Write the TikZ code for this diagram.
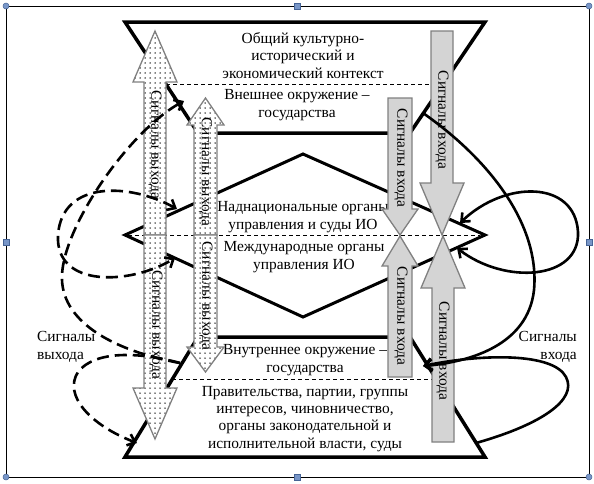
\documentclass[tikz,border=0pt]{standalone}
\usepackage{fontspec}
\setmainfont{Liberation Serif}
\usetikzlibrary{arrows.meta,patterns}
\pgfdeclarepatternformonly{sdots}{\pgfqpoint{-1pt}{-1pt}}{\pgfqpoint{1pt}{1pt}}{\pgfqpoint{5pt}{5pt}}{\pgfpathcircle{\pgfqpoint{0pt}{0pt}}{0.75pt}\pgfusepath{fill}}
\definecolor{hfill}{RGB}{120,150,200}
\definecolor{hdraw}{RGB}{70,100,150}
\tikzset{
  hg/.style={line width=3.5pt, line join=miter},
  sep/.style={line width=0.8pt, dash pattern=on 4pt off 3pt},
  outarrow/.style={draw=black!50, line width=1.3pt, preaction={fill=white}, pattern=sdots},
  inarrow/.style={draw=black!50, line width=1.3pt, fill=black!17},
  lbl/.style={font=\fontsize{15.4}{17.25}\selectfont, align=center, inner sep=0pt},
  vlbl/.style={font=\fontsize{15.4}{17.25}\selectfont, rotate=-90, inner sep=0pt},
  tipb/.tip={Straight Barb[length=7pt,width=12pt]},
  dcurve/.style={line width=2.6pt, dash pattern=on 12pt off 6pt},
  scurve/.style={line width=2.6pt},
  handlec/.style={circle, fill=hfill, draw=hdraw, line width=0.5pt, minimum size=6pt, inner sep=0pt},
  handles/.style={rectangle, fill=hfill, draw=hdraw, line width=0.5pt, minimum size=6pt, inner sep=0pt}
}
\begin{document}
\begin{tikzpicture}[x=1pt,y=-1pt]
\useasboundingbox (0,0) rectangle (594,483);
% frame
\draw[line width=0.9pt] (6,6) rectangle (589,477);
% hourglass
\draw[hg] (198,133) -- (125,22) -- (485,22) -- (410,133) -- cycle;
\draw[line width=3pt, line join=miter] (125,235) -- (303,154) -- (485,235) -- (303,317) -- cycle;
\draw[hg] (198,337) -- (410,337) -- (485,457) -- (125,457) -- cycle;
% separators
\draw[sep] (166,84) -- (443,84);
\draw[sep] (128,235) -- (480,235);
\draw[sep] (172,379) -- (436,379);
% texts (anchor=base is the baseline of the last line)
\node[lbl, anchor=base] (ctx) at (303,78) {Общий культурно-\\исторический и\\экономический контекст};
\node[lbl, anchor=base] (ext) at (297,117) {Внешнее окружение –\\государства};
\node[lbl, anchor=base] (supra) at (303,229) {Наднациональные органы\\управления и суды ИО};
\node[lbl, anchor=base] (intl) at (304,269) {Международные органы\\управления ИО};
\node[lbl, anchor=base] (inner) at (305,372) {Внутреннее окружение –\\государства};
\node[lbl, anchor=base] (gov) at (305,448) {Правительства, партии, группы\\интересов, чиновничество,\\органы законодательной и\\исполнительной власти, суды};
\node[lbl, align=left, anchor=base west] (outl) at (37,359) {Сигналы\\выхода};
\node[lbl, align=right, anchor=base east] (inl) at (577,359) {Сигналы\\входа};
% output arrows
\draw[outarrow] (144,235) -- (144,82) -- (133,82) -- (155,31) -- (177,82) -- (166,82) -- (166,235) -- cycle;
\draw[outarrow] (144,235) -- (144,388) -- (133,388) -- (155,439) -- (177,388) -- (166,388) -- (166,235) -- cycle;
\draw[outarrow] (194,235) -- (194,125) -- (187,125) -- (205.5,98) -- (224,125) -- (217,125) -- (217,235) -- cycle;
\draw[outarrow] (194,235) -- (194,347) -- (187,347) -- (205.5,372) -- (224,347) -- (217,347) -- (217,235) -- cycle;
\node[vlbl] (o1) at (155,145) {Сигналы выхода};
\node[vlbl] (o2) at (156,325) {Сигналы выхода};
\node[vlbl] (o3) at (205.5,172) {Сигналы выхода};
\node[vlbl] (o4) at (206,296) {Сигналы выхода};
% input arrows
\draw[inarrow] (431,31) -- (453,31) -- (453,183) -- (464,183) -- (442,235) -- (420,183) -- (431,183) -- cycle;
\draw[inarrow] (388,98) -- (412,98) -- (412,209) -- (418,209) -- (400,235) -- (382,209) -- (388,209) -- cycle;
\draw[inarrow] (388,377) -- (412,377) -- (412,266) -- (418,266) -- (400,236) -- (382,266) -- (388,266) -- cycle;
\draw[inarrow] (432,442) -- (454,442) -- (454,288) -- (465,288) -- (443,236) -- (421,288) -- (432,288) -- cycle;
\node[vlbl] (i1) at (442,120) {Сигналы входа};
\node[vlbl] (i2) at (401,158) {Сигналы входа};
\node[vlbl] (i3) at (401,316) {Сигналы входа};
\node[vlbl] (i4) at (443,351) {Сигналы входа};
% curve end points
\coordinate (ra) at (423,113);
\coordinate (rb) at (423,366);
\coordinate (rc) at (476,443);
\coordinate (rl1) at (460,223);
\coordinate (rl2) at (457,248);
\coordinate (la) at (180,363);
\coordinate (lb) at (184,101);
\coordinate (lc) at (137,443);
\coordinate (ll1) at (177,209);
\coordinate (ll2) at (175,258);
% solid input curves
\draw[scurve, -tipb] (ra) .. controls (490,160) and (540,225) .. (534,290) .. controls (528,345) and (470,362) .. (rb);
\draw[scurve, -tipb] (rc) .. controls (540,425) and (578,400) .. (566,377) .. controls (553,352) and (480,354) .. (rb);
\draw[scurve, tipb-tipb] (rl1) .. controls (505,180) and (575,180) .. (578,232) .. controls (580,280) and (505,285) .. (rl2);
% dashed output curves
\draw[dcurve, -tipb] (la) .. controls (110,350) and (60,320) .. (62,275) .. controls (64,225) and (130,130) .. (lb);
\draw[dcurve, -tipb] (la) .. controls (140,352) and (95,350) .. (78,372) .. controls (63,395) and (90,425) .. (lc);
\draw[dcurve, tipb-tipb] (ll1) .. controls (130,183) and (62,180) .. (58,235) .. controls (55,288) and (130,285) .. (ll2);
% frame handles
\node[handlec] (h1) at (6,6) {};
\node[handlec] (h2) at (589,6) {};
\node[handlec] (h3) at (6,477) {};
\node[handlec] (h4) at (589,477) {};
\node[handles] (h5) at (297,6) {};
\node[handles] (h6) at (297,477) {};
\node[handles] (h7) at (6,242) {};
\node[handles] (h8) at (589,242) {};
\end{tikzpicture}
\end{document}
